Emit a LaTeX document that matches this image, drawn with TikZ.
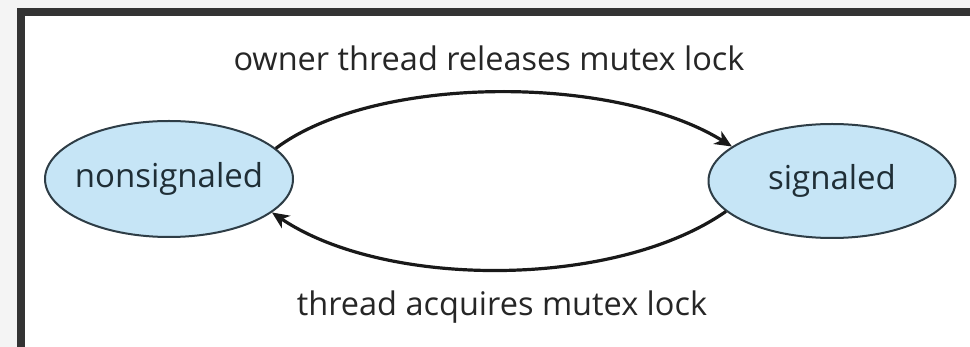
\documentclass[tikz,border=0pt]{standalone}
\usepackage{fontspec}
\setmainfont{Open Sans}
\usetikzlibrary{shapes.geometric,arrows.meta}
\definecolor{pagegray}{HTML}{F4F4F4}
\definecolor{framegray}{HTML}{333333}
\definecolor{statefill}{HTML}{C6E5F6}
\definecolor{stateedge}{HTML}{2E3D46}
\definecolor{statetext}{HTML}{1F2E36}
\definecolor{inktext}{HTML}{262626}
\tikzset{
  state/.style={ellipse, draw=stateedge, fill=statefill, line width=2pt,
    inner sep=0pt, text=statetext, font=\fontsize{33}{36}\selectfont},
  trans/.style={draw=black!90, line width=3.2pt,
    -{Stealth[length=17pt,width=15pt,inset=5pt]}},
  caption/.style={text=inktext, inner sep=0pt, font=\fontsize{32.5}{36}\selectfont}
}
\begin{document}
\begin{tikzpicture}[x=1pt,y=-1pt]
  \useasboundingbox (0,0) rectangle (970,347);
  % page background and the dark frame on top and left
  \fill[pagegray] (0,0) rectangle (970,347);
  \fill[framegray] (17,8) rectangle (970,347);
  \fill[white] (25,16) rectangle (970,347);

  % states (zero-width text boxes so the ellipse keeps its own size)
  \node[state, minimum width=248pt, minimum height=116pt] (ns) at (169,179) {\makebox[0pt]{nonsignaled}};
  \node[state, minimum width=247pt, minimum height=114pt] (sg) at (832,181) {\makebox[0pt]{signaled}};

  % transitions
  \draw[trans] (ns.16) .. controls (375,74) and (615,74) .. (sg.161);
  \draw[trans] (sg.196) .. controls (615,289) and (385,289) .. (ns.342);

  % labels
  \node[caption] (top) at (489,58) {owner thread releases mutex lock};
  \node[caption] (bot) at (502,307) {thread acquires mutex lock};
\end{tikzpicture}
\end{document}
